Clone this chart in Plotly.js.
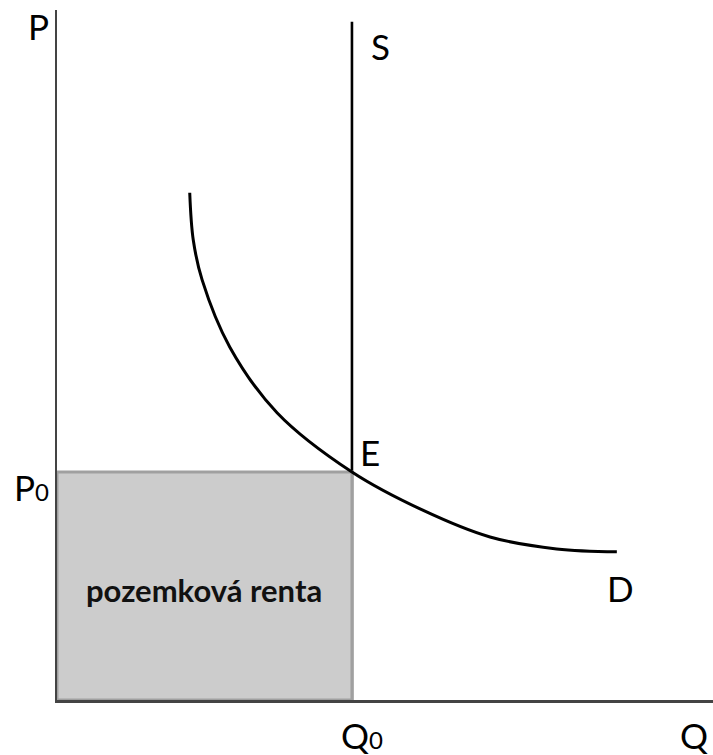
<!DOCTYPE html>
<html>
<head>
<meta charset="utf-8">
<script src="https://cdn.plot.ly/plotly-3.0.1.min.js"></script>
<style>html,body{margin:0;padding:0;background:#fff;}#chart{width:713px;height:755px;}</style>
</head>
<body>
<div id="chart"></div>
<script>
// Equilibrium values
const Q0 = 5.0;
const P0 = 4.0;
const supplyTop = 11.9;

// Demand curve
const demandQ = [2.25, 2.31, 2.46, 2.93, 3.73, 5.00, 6.20, 7.34, 8.47, 9.49];
const demandP = [8.90, 8.07, 7.37, 6.19, 5.04, 4.00, 3.33, 2.86, 2.65, 2.60];

// Labels
const SUB = "<span style='font-size:24px'>0</span>";
const labelText = ["P", "P" + SUB, "S", "E", "D", "Q", "Q" + SUB];
const labelX = [-0.32, -0.44, 5.49, 5.31, 9.56, 10.80, 5.17];
const labelY = [11.82, 3.74, 11.47, 4.35, 1.96, -0.61, -0.62];
const rentLabel = "pozemková renta";

const XMAX = 11.12, YMAX = 12.105;
const FONT = "Lato, 'Open Sans', sans-serif";

const traces = [
  { x: [Q0, Q0], y: [0, supplyTop], mode: "lines", line: {color: "#000", width: 2.6}, hoverinfo: "skip" },
  { x: [0, Q0, Q0, 0, 0], y: [0, 0, P0, P0, 0], mode: "lines", fill: "toself",
    fillcolor: "#cccccc", line: {color: "#a0a0a0", width: 3}, hoverinfo: "skip" },
  { x: demandQ, y: demandP, mode: "lines", line: {color: "#000", width: 3, shape: "spline", smoothing: 1}, hoverinfo: "skip" }
];

const annotations = labelText.map((t, i) => ({
  x: labelX[i] / XMAX, y: labelY[i] / YMAX, xref: "paper", yref: "paper",
  text: t, showarrow: false, xanchor: "center", yanchor: "middle",
  font: {family: FONT, size: 35, color: "#000"}
}));
annotations.push({
  x: (Q0 / 2) / XMAX, y: (P0 * 0.5 - 0.07) / YMAX, xref: "paper", yref: "paper", text: "<b>" + rentLabel + "</b>",
  showarrow: false, xanchor: "center", yanchor: "middle",
  font: {family: FONT, size: 31, color: "#111"}
});

const layout = {
  width: 713, height: 755,
  margin: {l: 57, r: 0, t: 10, b: 55},
  paper_bgcolor: "#fff", plot_bgcolor: "#fff",
  showlegend: false,
  xaxis: {range: [0, XMAX], showline: true, linecolor: "#444", linewidth: 2.5,
          showgrid: false, zeroline: false, showticklabels: false, ticks: "", fixedrange: true},
  yaxis: {range: [0, YMAX], showline: true, linecolor: "#444", linewidth: 2.5,
          showgrid: false, zeroline: false, showticklabels: false, ticks: "", fixedrange: true},
  annotations: annotations
};

Plotly.newPlot("chart", traces, layout, {displayModeBar: false, staticPlot: true});
</script>
</body>
</html>
